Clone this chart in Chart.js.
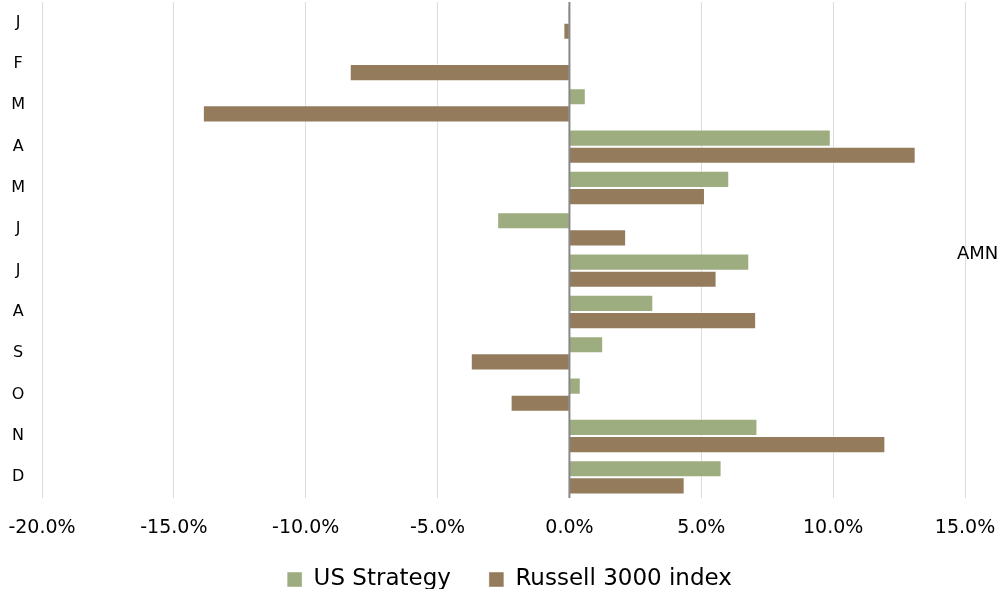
<!DOCTYPE html>
<html>
<head>
<meta charset="utf-8">
<script src="https://cdn.jsdelivr.net/npm/chart.js@4"></script>
<style>
  html, body { margin: 0; padding: 0; background: #fff; }
  #wrap { width: 999px; height: 598px; position: relative; }
</style>
</head>
<body>
<div id="wrap"><canvas id="chart"></canvas></div>
<script>
// monthly returns, %
const months = ['J', 'F', 'M', 'A', 'M', 'J', 'J', 'A', 'S', 'O', 'N', 'D'];
const usStrategy = [-0.05, 0, 0.62, 9.91, 6.06, -2.74, 6.82, 3.18, 1.28, 0.43, 7.13, 5.77];
const russell3000 = [-0.23, -8.33, -13.9, 13.13, 5.14, 2.15, 5.58, 7.08, -3.74, -2.23, 11.98, 4.37];
const seriesNames = ['US Strategy', 'Russell 3000 index'];
const sideNote = 'AMN';

const green = '#9ead80';
const brown = '#937b5b';

// zero line drawn on top of the bars, plus the stray side label
const zeroLine = {
    id: 'zeroLine',
    afterDatasetsDraw(chart) {
        const ctx = chart.ctx;
        const x = chart.scales.x.getPixelForValue(0);
        const area = chart.chartArea;
        ctx.save();
        ctx.strokeStyle = '#878787';
        ctx.lineWidth = 2;
        ctx.beginPath();
        ctx.moveTo(x, area.top);
        ctx.lineTo(x, area.bottom);
        ctx.stroke();
        ctx.fillStyle = '#000';
        ctx.font = '18px "DejaVu Sans"';
        ctx.textBaseline = 'alphabetic';
        ctx.fillText(sideNote, 957, 259);
        ctx.restore();
    }
};

// fixed legend height, then nudge it so it sits like the original
const legendPlace = {
    id: 'legendPlace',
    beforeInit(chart) {
        const fit = chart.legend.fit;
        chart.legend.fit = function () {
            fit.call(this);
            this.height = 59;
        };
    },
    afterLayout(chart) {
        const lg = chart.legend;
        lg.top -= 9;
        lg.bottom -= 9;
        lg.left += 27;
        lg.right += 27;
    }
};

new Chart(document.getElementById('chart'), {
    type: 'bar',
    data: {
        labels: months,
        datasets: [
            {
                label: seriesNames[0],
                data: usStrategy,
                backgroundColor: green,
                borderColor: 'rgba(255,255,255,0.45)',
                borderWidth: 1
            },
            {
                label: seriesNames[1],
                data: russell3000,
                backgroundColor: brown,
                borderColor: 'rgba(255,255,255,0.45)',
                borderWidth: 1
            }
        ]
    },
    options: {
        indexAxis: 'y',
        responsive: true,
        maintainAspectRatio: false,
        animation: false,
        layout: { padding: { top: 2, left: 0, right: 34, bottom: 0 } },
        datasets: { bar: { categoryPercentage: 0.83, barPercentage: 1 } },
        scales: {
            x: {
                min: -20,
                max: 15,
                border: { display: false },
                grid: { color: '#dcdcdc', lineWidth: 1, drawTicks: false },
                ticks: {
                    stepSize: 5,
                    padding: 19,
                    color: '#000',
                    font: { family: 'DejaVu Sans', size: 19 },
                    callback: v => v.toFixed(1) + '%'
                },
                afterFit: s => {
                    s.height = 41;
                    s.paddingLeft = 0;
                    s.paddingRight = 0;
                }
            },
            y: {
                border: { display: false },
                grid: { display: false, drawTicks: false },
                ticks: {
                    crossAlign: 'center',
                    padding: 17,
                    color: '#000',
                    font: { family: 'DejaVu Sans', size: 16 }
                },
                afterFit: s => {
                    s.width = 42;
                    s.paddingTop = 0;
                    s.paddingBottom = 0;
                }
            }
        },
        plugins: {
            legend: {
                position: 'bottom',
                labels: {
                    boxWidth: 15,
                    boxHeight: 15,
                    padding: 38,
                    color: '#000',
                    font: { family: 'DejaVu Sans', size: 23 }
                }
            },
            tooltip: { enabled: false }
        }
    },
    plugins: [zeroLine, legendPlace]
});
</script>
</body>
</html>
